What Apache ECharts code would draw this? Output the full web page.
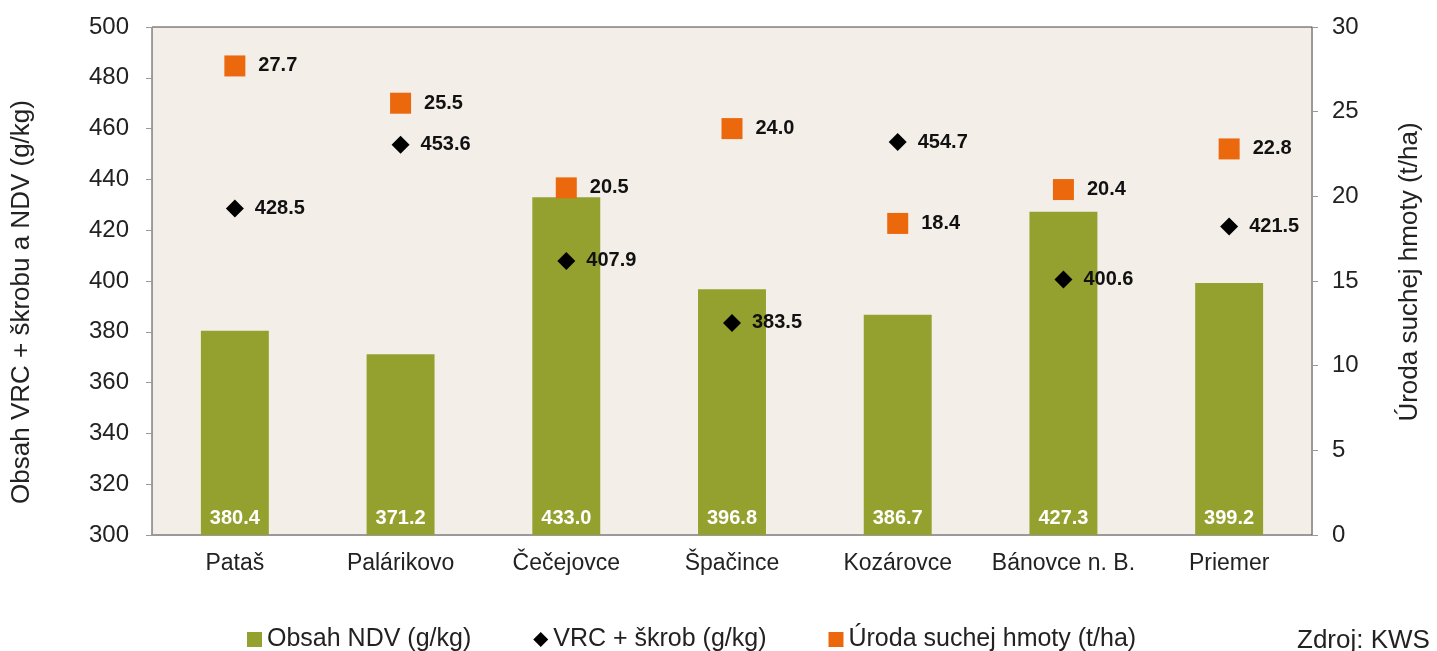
<!DOCTYPE html>
<html><head><meta charset="utf-8">
<script src="https://cdn.jsdelivr.net/npm/echarts@6/dist/echarts.min.js"></script>
<style>html,body{margin:0;padding:0;background:#fff;}#c{width:1437px;height:651px;}</style>
</head><body><div id="c"></div>
<script>
const categories = ['Pataš','Palárikovo','Čečejovce','Špačince','Kozárovce','Bánovce n. B.','Priemer'];
const ndv = [380.4, 371.2, 433.0, 396.8, 386.7, 427.3, 399.2];
const vrc = [428.5, 453.6, 407.9, 383.5, 454.7, 400.6, 421.5];
const uroda = [27.7, 25.5, 20.5, 24.0, 18.4, 20.4, 22.8];
const leftTicks = [300, 500, 20];
const rightTicks = [0, 30, 5];

const font = 'Liberation Sans, Arial, sans-serif';
const chart = echarts.init(document.getElementById('c'));
chart.setOption({
  animation: false,
  textStyle: {fontFamily: font},
  grid: {left: 152, right: 125, top: 27, bottom: 116, show: true, backgroundColor: '#f3efe8', borderColor: '#444', borderWidth: 1},
  legend: {
    top: 622, left: 242, itemGap: 62, itemWidth: 15, itemHeight: 15,
    textStyle: {fontSize: 25, color: '#222', fontFamily: font},
    data: [
      {name: 'Obsah NDV (g/kg)', icon: 'rect'},
      {name: 'VRC + škrob (g/kg)', icon: 'diamond', itemStyle: {color: '#000'}},
      {name: 'Úroda suchej hmoty (t/ha)', icon: 'rect'}
    ]
  },
  xAxis: {
    type: 'category', data: categories,
    axisLine: {lineStyle: {color: '#999'}},
    axisTick: {length: 6, lineStyle: {color: '#999'}},
    axisLabel: {fontSize: 23, color: '#222', margin: 17, interval: 0, hideOverlap: false}
  },
  yAxis: [
    {type: 'value', min: leftTicks[0], max: leftTicks[1], interval: leftTicks[2], startValue: leftTicks[0],
     splitLine: {show: false},
     axisLine: {show: true, lineStyle: {color: '#999'}},
     axisTick: {show: true, length: 6, lineStyle: {color: '#999'}},
     axisLabel: {fontSize: 24, color: '#222', margin: 23}},
    {type: 'value', min: rightTicks[0], max: rightTicks[1], interval: rightTicks[2],
     splitLine: {show: false},
     axisLine: {show: true, lineStyle: {color: '#999'}},
     axisTick: {show: true, length: 6, lineStyle: {color: '#999'}},
     axisLabel: {fontSize: 24, color: '#222', margin: 20}}
  ],
  graphic: [
    {type: 'text', left: 1297, top: 628, style: {text: 'Zdroj: KWS', fontSize: 26, fill: '#222', fontFamily: font}},
    {type: 'text', x: 22, y: 302, rotation: Math.PI/2, style: {text: 'Obsah VRC + škrobu a NDV (g/kg)', fontSize: 26, fill: '#222', fontFamily: font, align: 'center', verticalAlign: 'middle'}},
    {type: 'text', x: 1410, y: 272, rotation: Math.PI/2, style: {text: 'Úroda suchej hmoty (t/ha)', fontSize: 26, fill: '#222', fontFamily: font, align: 'center', verticalAlign: 'middle'}}
  ],
  series: [
    {name: 'Obsah NDV (g/kg)', type: 'bar', data: ndv, barWidth: '41%', yAxisIndex: 0,
     itemStyle: {color: '#95a12f'},
     label: {show: true, position: 'insideBottom', distance: 7, color: '#fff', fontWeight: 'bold', fontSize: 20,
       formatter: p => p.value.toFixed(1)}},
    {name: 'VRC + škrob (g/kg)', type: 'scatter', data: vrc, yAxisIndex: 0, symbol: 'diamond', symbolSize: 18,
     itemStyle: {color: '#000', opacity: 1},
     label: {show: true, position: 'right', distance: 11, color: '#111', fontWeight: 'bold', fontSize: 20,
       formatter: p => p.value.toFixed(1)}},
    {name: 'Úroda suchej hmoty (t/ha)', type: 'scatter', data: uroda, yAxisIndex: 1, symbol: 'rect', symbolSize: 21,
     itemStyle: {color: '#ec680c', opacity: 1},
     label: {show: true, position: 'right', distance: 13, color: '#111', fontWeight: 'bold', fontSize: 20,
       formatter: p => p.value.toFixed(1)}}
  ]
});
</script></body></html>
